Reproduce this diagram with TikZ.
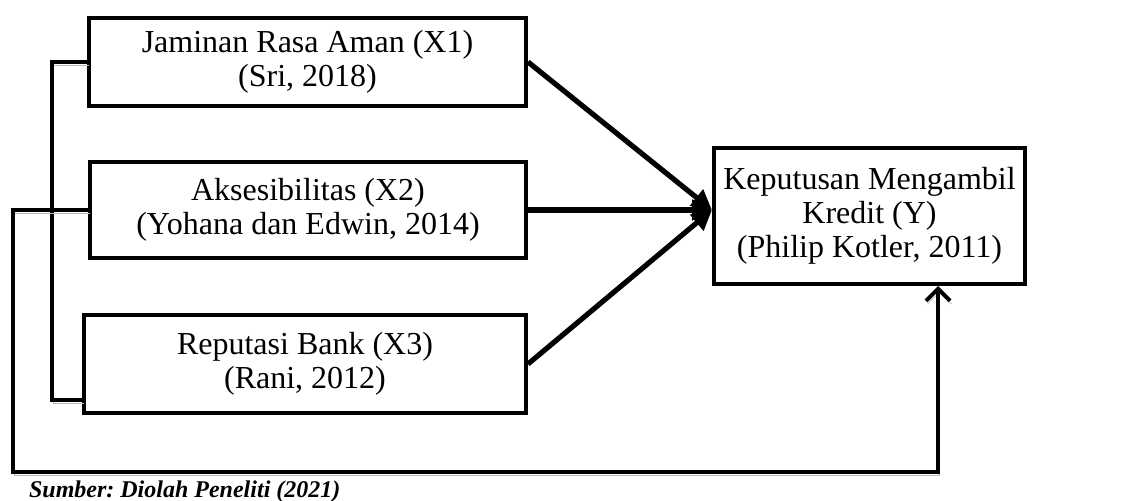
\documentclass[tikz,border=0pt]{standalone}
\usepackage{fontspec}
\setmainfont{Liberation Serif}
\usetikzlibrary{arrows.meta,positioning}
\frenchspacing
\tikzset{
	varbox/.style={draw,line width=2pt,align=center,inner sep=0pt,font=\fontsize{16}{17}\selectfont},
	link/.style={line width=2pt,preaction={draw=gray!55,transform canvas={shift={(0.8pt,-1.6pt)}}}},
	arr/.style={line width=2.6pt,-{Triangle[length=10pt,width=10pt]}},
}
\begin{document}
\begin{tikzpicture}[x=0.5pt,y=-0.5pt]
		\useasboundingbox (0,0) rectangle (1128,501);
		\node[varbox,minimum width=218.5pt,minimum height=44pt] (X1) at (307.5,62) {Jaminan Rasa Aman (X1)\\(Sri, 2018)};
		\node[varbox,minimum width=218pt,minimum height=48pt] (X2) at (308,210) {Aksesibilitas (X2)\\(Yohana dan Edwin, 2014)};
		\node[varbox,minimum width=221pt,minimum height=49pt] (X3) at (305,364) {Reputasi Bank (X3)\\(Rani, 2012)};
		\node[varbox,minimum width=155.5pt,minimum height=68pt] (Y) at (869.5,216) {Keputusan Mengambil\\Kredit (Y)\\(Philip Kotler, 2011)};
		\coordinate (lb) at (13,472);
		\draw[link] (X1.west) -- ++(-35,0) |- ([yshift=-18pt]X3.west);
		\draw[link,-{Straight Barb[length=6pt,width=12pt]}] (X2.west) -| (lb) -| ([xshift=34.25pt]Y.south);
		\draw[arr] (X1.east) -- (Y.west |- X2.east);
		\draw[arr] (X2.east) -- (Y.west |- X2.east);
		\draw[arr] (X3.east) -- (Y.west |- X2.east);
		\node[anchor=base west,font=\bfseries\itshape\fontsize{12}{12}\selectfont] (src) at (22,497) {Sumber: Diolah Peneliti (2021)};
\end{tikzpicture}
\end{document}
